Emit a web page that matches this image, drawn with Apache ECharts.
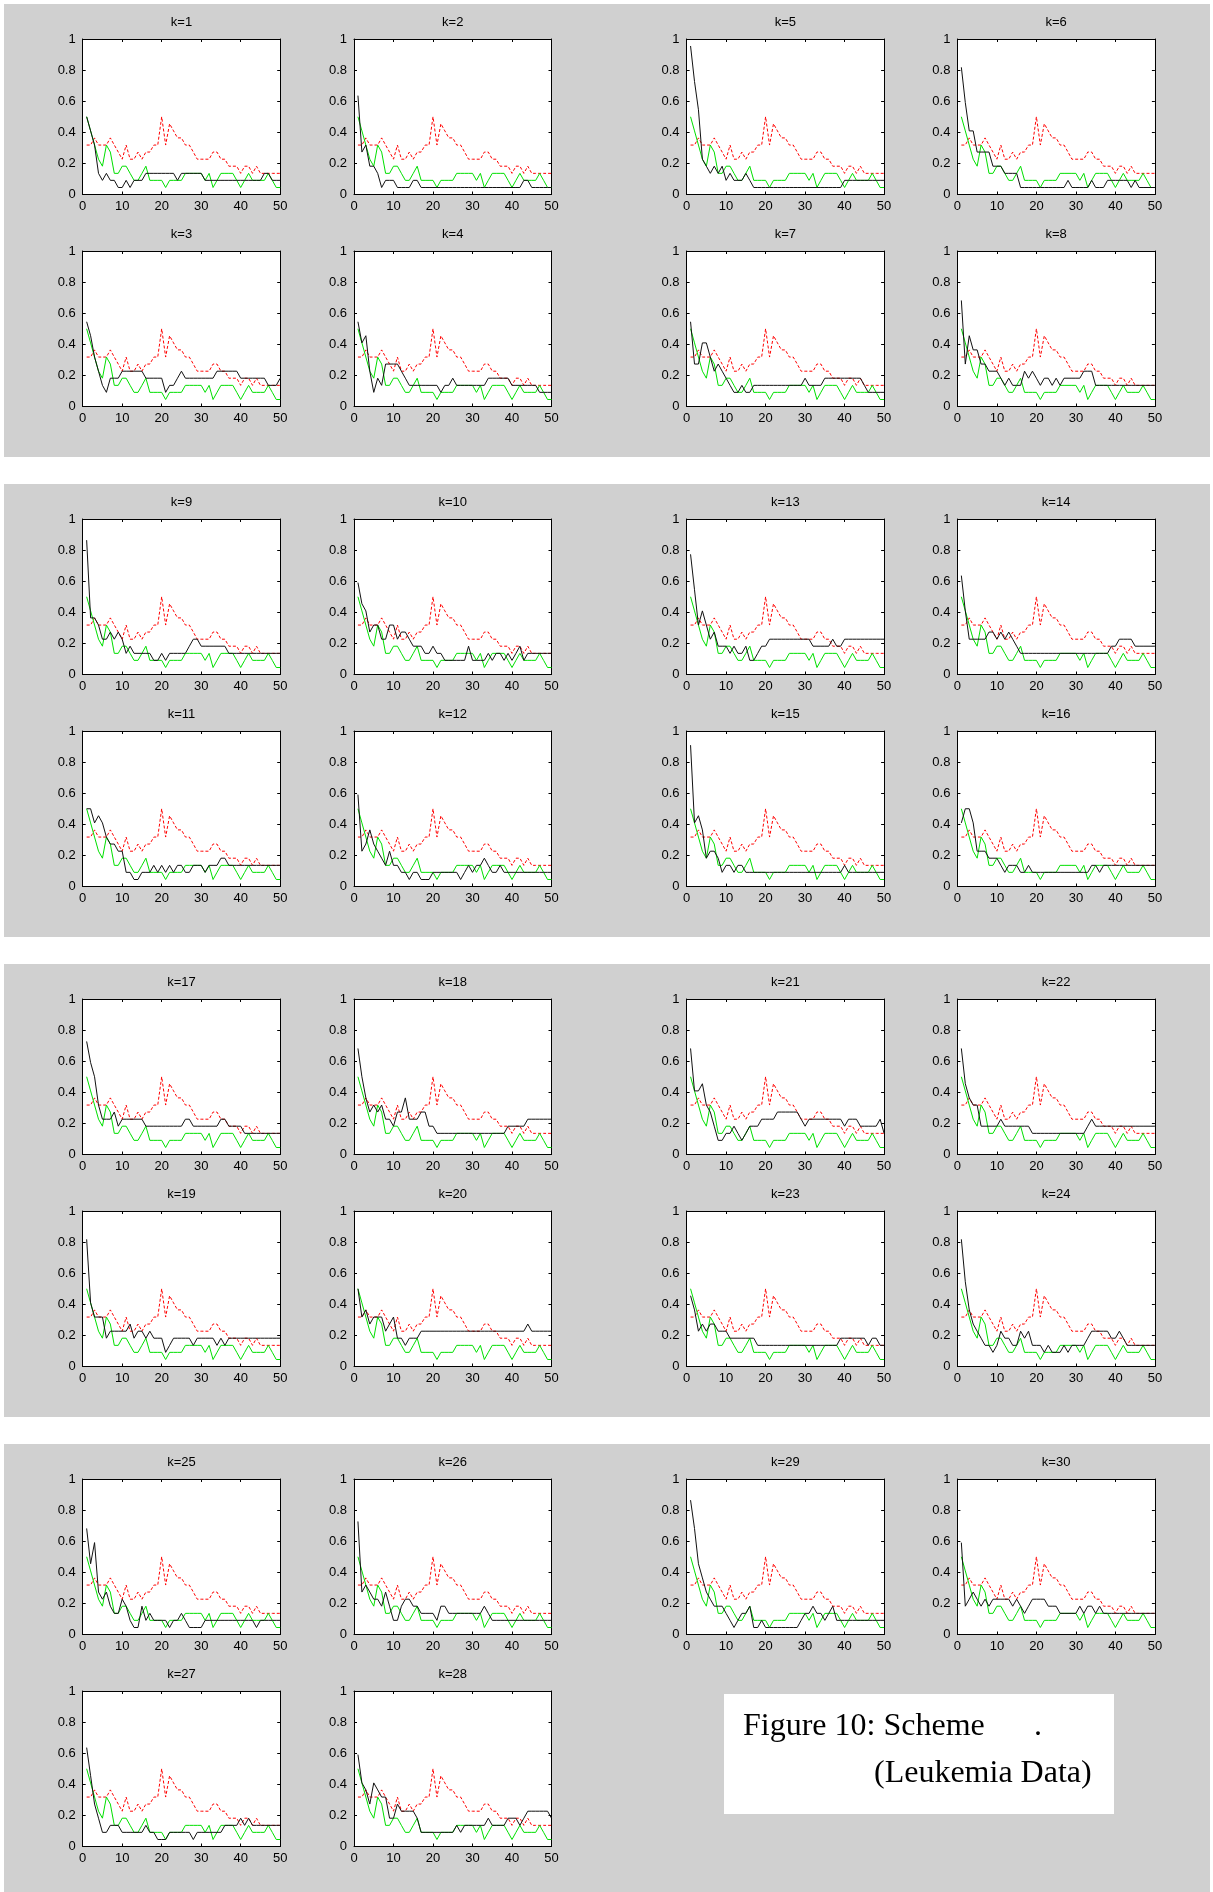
<!DOCTYPE html>
<html>
<head>
<meta charset="utf-8">
<script src="https://cdn.jsdelivr.net/npm/echarts@6/dist/echarts.min.js"></script>
<style>
html,body{margin:0;padding:0;background:#fff;}
#chart{width:1213px;height:1892px;}
</style>
</head>
<body>
<div id="chart"></div>
<script>
// ---- data ----
const xs = Array.from({length: 50}, (_, i) => i + 1);
const xTicks = [0, 10, 20, 30, 40, 50];
const yTicks = [0, 0.2, 0.4, 0.6, 0.8, 1];

const redRef = [.318,.318,.364,.318,.318,.318,.364,.318,.273,.227,
  .318,.227,.227,.273,.227,.273,.273,.318,.318,.5,
  .318,.455,.409,.364,.364,.318,.318,.273,.227,.227,
  .227,.227,.273,.273,.227,.227,.182,.182,.182,.136,
  .182,.182,.136,.182,.136,.136,.136,.136,.136,.136];
const greenRef = [.5,.409,.318,.227,.182,.318,.273,.136,.136,.182,
  .182,.136,.091,.091,.136,.182,.091,.091,.091,.091,
  .045,.091,.091,.091,.091,.136,.136,.136,.136,.136,
  .091,.136,.045,.091,.136,.136,.136,.136,.091,.045,
  .091,.136,.091,.091,.091,.091,.136,.091,.045,.045];

const k1 = [.5,.409,.318,.136,.091,.136,.091,.091,.045,.045,
  .091,.045,.091,.091,.091,.136,.136,.136,.136,.136,
  .136,.136,.136,.091,.136,.136,.136,.136,.136,.136,
  .091,.091,.091,.091,.091,.091,.091,.091,.091,.091,
  .091,.091,.091,.091,.091,.136,.136,.091,.091,.091];
const k2 = [.636,.273,.318,.182,.182,.136,.045,.091,.091,.091,
  .045,.045,.045,.045,.091,.091,.045,.045,.045,.045,
  .045,.045,.045,.045,.045,.045,.045,.045,.045,.045,
  .045,.045,.045,.045,.045,.045,.045,.045,.045,.045,
  .045,.045,.091,.091,.045,.045,.045,.045,.045,.045];
const k3 = [.545,.455,.318,.227,.136,.091,.182,.182,.182,.227,
  .227,.227,.227,.227,.227,.182,.182,.182,.182,.182,
  .091,.136,.136,.182,.227,.182,.182,.182,.182,.182,
  .182,.182,.182,.227,.227,.227,.227,.227,.227,.182,
  .182,.182,.182,.182,.182,.182,.136,.136,.136,.182];
const k4 = [.545,.409,.455,.227,.091,.182,.136,.273,.273,.273,
  .273,.227,.182,.136,.136,.136,.136,.136,.136,.136,
  .136,.091,.136,.136,.182,.136,.136,.136,.136,.136,
  .136,.136,.136,.182,.182,.182,.182,.182,.182,.136,
  .136,.136,.136,.136,.136,.136,.091,.091,.091,.091];
const k5 = [.955,.727,.545,.227,.182,.136,.182,.136,.182,.091,
  .136,.091,.091,.091,.136,.091,.045,.045,.045,.045,
  .045,.045,.045,.045,.045,.045,.045,.045,.045,.045,
  .045,.045,.045,.045,.045,.045,.045,.045,.045,.091,
  .091,.091,.091,.091,.091,.091,.091,.091,.091,.091];
const k6 = [.818,.591,.409,.409,.273,.273,.273,.273,.182,.182,
  .182,.136,.136,.136,.136,.045,.045,.045,.045,.045,
  .045,.045,.045,.045,.045,.045,.045,.091,.045,.045,
  .045,.045,.045,.091,.045,.045,.045,.091,.091,.091,
  .091,.091,.091,.045,.091,.045,.045,.045,.045,.045];
const k7 = [.545,.273,.273,.409,.409,.318,.227,.273,.227,.182,
  .136,.091,.091,.136,.091,.091,.136,.136,.136,.136,
  .136,.136,.136,.136,.136,.136,.136,.136,.136,.182,
  .136,.136,.136,.136,.182,.182,.182,.182,.182,.182,
  .182,.182,.182,.182,.136,.091,.091,.091,.091,.091];
const k8 = [.682,.273,.455,.364,.364,.273,.273,.227,.227,.227,
  .182,.136,.182,.136,.136,.136,.227,.182,.227,.182,
  .136,.182,.182,.136,.182,.136,.182,.182,.182,.182,
  .182,.227,.227,.227,.136,.136,.136,.136,.136,.136,
  .136,.136,.136,.136,.136,.136,.136,.136,.136,.136];
const k9 = [.864,.364,.364,.318,.227,.227,.273,.227,.273,.227,
  .136,.182,.136,.136,.136,.136,.136,.091,.091,.136,
  .091,.136,.136,.136,.136,.136,.182,.227,.227,.182,
  .182,.182,.182,.182,.182,.182,.136,.136,.136,.136,
  .136,.136,.136,.136,.136,.136,.136,.136,.136,.136];
const k10 = [.591,.455,.409,.273,.318,.318,.227,.227,.318,.318,
  .227,.273,.273,.227,.182,.182,.182,.136,.136,.182,
  .136,.136,.091,.091,.091,.091,.091,.091,.182,.091,
  .091,.091,.091,.136,.091,.136,.136,.091,.136,.091,
  .136,.182,.091,.136,.136,.136,.136,.136,.136,.136];
const k11 = [.5,.5,.409,.455,.409,.318,.273,.273,.227,.227,
  .091,.091,.045,.045,.091,.091,.091,.136,.091,.136,
  .091,.136,.091,.136,.136,.091,.091,.136,.136,.136,
  .091,.136,.136,.136,.182,.182,.136,.136,.136,.136,
  .136,.136,.136,.136,.136,.136,.136,.136,.136,.136];
const k12 = [.591,.227,.273,.364,.273,.227,.182,.136,.227,.136,
  .136,.091,.091,.045,.091,.091,.045,.045,.045,.091,
  .091,.091,.091,.091,.091,.091,.045,.091,.136,.091,
  .136,.136,.182,.136,.091,.091,.136,.091,.091,.091,
  .091,.091,.091,.091,.091,.091,.091,.091,.091,.091];
const k13 = [.773,.545,.318,.409,.318,.227,.273,.182,.182,.182,
  .136,.182,.136,.136,.182,.091,.091,.136,.182,.182,
  .227,.227,.227,.227,.227,.227,.227,.227,.227,.227,
  .227,.182,.182,.182,.182,.182,.227,.182,.182,.227,
  .227,.227,.227,.227,.227,.227,.227,.227,.227,.227];
const k14 = [.636,.409,.227,.227,.227,.227,.227,.273,.273,.227,
  .273,.227,.273,.227,.182,.136,.136,.136,.136,.136,
  .136,.136,.136,.136,.136,.136,.136,.136,.136,.136,
  .136,.136,.136,.136,.136,.136,.136,.136,.182,.182,
  .227,.227,.227,.227,.182,.182,.182,.182,.182,.182];
const k15 = [.909,.409,.455,.364,.182,.227,.227,.182,.091,.136,
  .136,.091,.136,.136,.091,.091,.091,.091,.091,.091,
  .091,.091,.091,.091,.091,.091,.091,.091,.091,.091,
  .091,.091,.091,.091,.091,.091,.091,.091,.091,.136,
  .091,.091,.091,.091,.091,.091,.091,.091,.091,.091];
const k16 = [.409,.5,.5,.409,.227,.227,.227,.182,.182,.182,
  .136,.091,.136,.136,.136,.091,.091,.136,.091,.091,
  .091,.091,.091,.091,.091,.091,.091,.091,.091,.091,
  .091,.091,.091,.136,.136,.091,.136,.136,.136,.136,
  .136,.136,.136,.136,.136,.136,.136,.136,.136,.136];
const k17 = [.727,.591,.5,.318,.227,.227,.227,.273,.182,.227,
  .227,.227,.227,.227,.227,.182,.182,.182,.182,.182,
  .182,.182,.182,.182,.182,.227,.227,.182,.182,.182,
  .182,.182,.182,.182,.227,.227,.182,.182,.182,.182,
  .136,.136,.136,.136,.136,.136,.136,.136,.136,.136];
const k18 = [.682,.5,.364,.273,.318,.273,.318,.227,.227,.182,
  .273,.273,.364,.227,.227,.227,.273,.273,.182,.182,
  .136,.136,.136,.136,.136,.136,.136,.136,.136,.136,
  .136,.136,.136,.136,.136,.136,.136,.136,.182,.182,
  .182,.182,.182,.227,.227,.227,.227,.227,.227,.227];
const k19 = [.818,.409,.318,.318,.318,.182,.227,.227,.227,.227,
  .227,.273,.182,.227,.227,.182,.227,.182,.182,.182,
  .091,.136,.182,.182,.182,.182,.182,.136,.182,.182,
  .182,.182,.182,.136,.182,.136,.182,.182,.182,.182,
  .182,.182,.182,.182,.182,.182,.182,.182,.182,.182];
const k20 = [.5,.318,.364,.273,.318,.318,.318,.227,.273,.318,
  .182,.182,.136,.182,.182,.182,.227,.227,.227,.227,
  .227,.227,.227,.227,.227,.227,.227,.227,.227,.227,
  .227,.227,.227,.227,.227,.227,.227,.227,.227,.227,
  .227,.227,.227,.273,.227,.227,.227,.227,.227,.227];
const k21 = [.682,.409,.409,.455,.318,.273,.182,.091,.091,.136,
  .136,.182,.136,.091,.136,.182,.182,.182,.227,.227,
  .227,.227,.273,.273,.273,.273,.273,.273,.227,.182,
  .227,.227,.227,.227,.227,.227,.227,.227,.227,.182,
  .227,.227,.227,.182,.182,.182,.182,.182,.227,.136];
const k22 = [.682,.455,.364,.318,.318,.182,.182,.182,.182,.182,
  .227,.182,.182,.182,.182,.182,.182,.182,.136,.136,
  .136,.136,.136,.136,.136,.136,.136,.136,.136,.136,
  .136,.136,.182,.227,.182,.182,.182,.182,.182,.182,
  .182,.182,.182,.182,.182,.182,.182,.182,.182,.182];
const k23 = [.455,.364,.227,.273,.227,.273,.273,.227,.227,.227,
  .182,.182,.182,.182,.182,.182,.182,.136,.136,.136,
  .136,.136,.136,.136,.136,.136,.136,.136,.136,.136,
  .136,.136,.136,.136,.136,.136,.136,.136,.182,.182,
  .182,.182,.182,.182,.182,.136,.182,.182,.136,.136];
const k24 = [.818,.545,.364,.273,.227,.182,.136,.136,.091,.136,
  .227,.182,.182,.136,.136,.227,.182,.227,.136,.136,
  .136,.091,.136,.091,.091,.091,.136,.091,.136,.136,
  .136,.136,.182,.227,.227,.227,.227,.227,.182,.182,
  .227,.182,.136,.136,.136,.136,.136,.136,.136,.136];
const k25 = [.682,.455,.591,.273,.227,.273,.182,.136,.136,.227,
  .182,.091,.045,.045,.182,.091,.136,.091,.091,.091,
  .091,.045,.091,.091,.136,.091,.045,.045,.045,.045,
  .091,.091,.091,.091,.091,.091,.091,.091,.091,.091,
  .091,.091,.091,.045,.091,.091,.091,.091,.091,.091];
const k26 = [.727,.273,.318,.273,.227,.227,.182,.273,.182,.091,
  .091,.182,.227,.227,.182,.182,.136,.136,.136,.136,
  .091,.182,.182,.136,.136,.136,.136,.136,.136,.136,
  .136,.136,.182,.136,.091,.091,.091,.091,.091,.091,
  .091,.091,.091,.091,.091,.091,.091,.091,.091,.091];
const k27 = [.636,.455,.273,.182,.091,.091,.136,.136,.136,.091,
  .091,.091,.091,.091,.091,.136,.091,.091,.045,.045,
  .045,.091,.091,.091,.091,.091,.091,.045,.091,.091,
  .091,.091,.091,.091,.091,.136,.136,.136,.136,.182,
  .136,.182,.136,.136,.136,.136,.136,.136,.136,.136];
const k28 = [.591,.409,.364,.273,.409,.364,.318,.318,.182,.182,
  .273,.227,.227,.227,.227,.182,.091,.091,.091,.091,
  .091,.091,.091,.091,.091,.136,.091,.136,.136,.136,
  .136,.136,.136,.182,.136,.136,.136,.136,.182,.182,
  .182,.136,.182,.227,.227,.227,.227,.227,.227,.182];
const k29 = [.864,.682,.455,.364,.273,.227,.182,.182,.182,.136,
  .091,.045,.091,.136,.136,.182,.045,.045,.091,.045,
  .045,.045,.045,.045,.045,.045,.045,.045,.091,.136,
  .136,.182,.136,.136,.091,.136,.182,.091,.091,.091,
  .091,.091,.091,.091,.091,.091,.091,.091,.091,.091];
const k30 = [.591,.182,.227,.273,.227,.182,.227,.182,.227,.227,
  .227,.227,.227,.182,.227,.182,.136,.182,.227,.227,
  .227,.227,.182,.182,.182,.136,.136,.136,.136,.136,
  .182,.136,.182,.182,.136,.182,.136,.136,.136,.136,
  .136,.136,.136,.136,.136,.136,.136,.136,.136,.136];

const blackByK = [k1,k2,k3,k4,k5,k6,k7,k8,k9,k10,k11,k12,k13,k14,k15,
  k16,k17,k18,k19,k20,k21,k22,k23,k24,k25,k26,k27,k28,k29,k30];
const kLabels = blackByK.map((_, i) => 'k=' + (i + 1));
const captionLine1 = 'Figure 10: Scheme';
const captionDot = '.';
const captionLine2 = '(Leukemia Data)';

// ---- layout ----
const panelTops = [4, 484, 964, 1444];
const panelHeights = [453, 453, 453, 448];
const colLeft = [82.7, 354, 686.6, 957.4];
const rowOff = [35, 247];
const W = 197.5, H = 155.5;
const slot = [[0,0],[0,1],[1,0],[1,1],[0,2],[0,3],[1,2],[1,3]];
const FONT = '"Liberation Sans", Arial, sans-serif';

const grids = [], xAxes = [], yAxes = [], series = [], graphics = [];

panelTops.forEach((t, p) => {
  graphics.push({type:'rect', z:-10, silent:true,
    shape:{x:4, y:t, width:1206, height:panelHeights[p]},
    style:{fill:'#d0d0d0'}});
});

blackByK.forEach((blk, i) => {
  const p = Math.floor(i / 8), [r, c] = slot[i % 8];
  const left = colLeft[c], top = panelTops[p] + rowOff[r];
  grids.push({left, top, width: W, height: H, show: true, backgroundColor: '#fff', borderWidth: 0, containLabel: false});
  const baseX = {gridIndex: i, type: 'value', min: xTicks[0], max: xTicks[xTicks.length-1], interval: 10,
    axisLine: {show: true, onZero: false, lineStyle: {color: '#000', width: 1}},
    axisTick: {show: true, inside: true, length: 3, lineStyle: {color: '#000'}},
    splitLine: {show: false}};
  xAxes.push(Object.assign({}, baseX, {position: 'bottom',
    axisLabel: {show: true, color: '#000', fontSize: 13, margin: 5, fontFamily: FONT}}));
  xAxes.push(Object.assign({}, baseX, {position: 'top', axisLabel: {show: false}}));
  const baseY = {gridIndex: i, type: 'value', min: yTicks[0], max: yTicks[yTicks.length-1], interval: 0.2,
    axisLine: {show: true, onZero: false, lineStyle: {color: '#000', width: 1}},
    axisTick: {show: true, inside: true, length: 3, lineStyle: {color: '#000'}},
    splitLine: {show: false}};
  yAxes.push(Object.assign({}, baseY, {position: 'left',
    axisLabel: {show: true, color: '#000', fontSize: 13, margin: 7, fontFamily: FONT}}));
  yAxes.push(Object.assign({}, baseY, {position: 'right', axisLabel: {show: false}}));

  const common = {type: 'line', xAxisIndex: 2*i, yAxisIndex: 2*i, showSymbol: false, symbol: 'none',
    silent: true, animation: false};
  series.push(Object.assign({}, common, {data: xs.map((x, n) => [x, redRef[n]]),
    lineStyle: {color: '#ff0000', width: 1, type: [3, 2]}}));
  series.push(Object.assign({}, common, {data: xs.map((x, n) => [x, greenRef[n]]),
    lineStyle: {color: '#00e000', width: 1}}));
  series.push(Object.assign({}, common, {data: xs.map((x, n) => [x, blk[n]]),
    lineStyle: {color: '#111', width: 1}}));

  graphics.push({type: 'text', z: 5, silent: true, x: left + W/2, y: panelTops[p] + rowOff[r] - 16.5,
    style: {text: kLabels[i], fill: '#000', fontSize: 13, fontFamily: FONT, align: 'center', verticalAlign: 'middle'}});
});

// caption box
graphics.push({type:'rect', z: 5, silent: true, shape:{x:724, y:1694, width:390, height:120}, style:{fill:'#fff'}});
const SERIF = '"Liberation Serif", "Times New Roman", serif';
graphics.push({type:'text', z: 6, silent: true, x: 743, y: 1727,
  style:{text: captionLine1, fill:'#000', fontSize: 32, fontFamily: SERIF, align:'left', verticalAlign:'middle'}});
graphics.push({type:'text', z: 6, silent: true, x: 1034, y: 1727,
  style:{text: captionDot, fill:'#000', fontSize: 32, fontFamily: SERIF, align:'left', verticalAlign:'middle'}});
graphics.push({type:'text', z: 6, silent: true, x: 874, y: 1774,
  style:{text: captionLine2, fill:'#000', fontSize: 32, fontFamily: SERIF, align:'left', verticalAlign:'middle'}});

const chart = echarts.init(document.getElementById('chart'), null, {renderer: 'canvas'});
chart.setOption({
  backgroundColor: '#fff',
  animation: false,
  grid: grids,
  xAxis: xAxes,
  yAxis: yAxes,
  series: series,
  graphic: graphics
});
</script>
</body>
</html>
